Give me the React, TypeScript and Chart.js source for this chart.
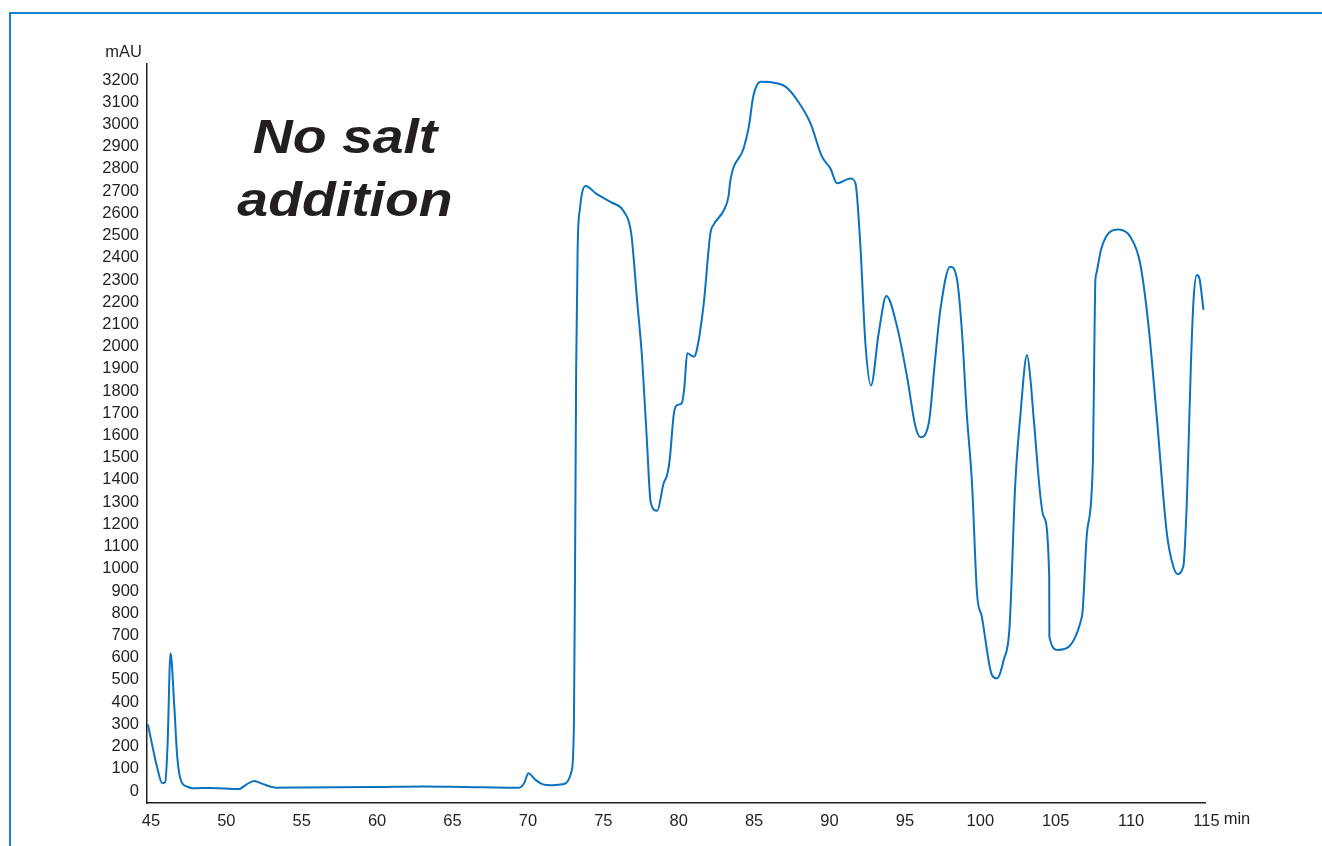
import React, { useEffect, useRef } from "react";
import { Chart, registerables } from "chart.js";

Chart.register(...registerables);

const timeMin: number[] = [
  44.8, 45.4, 45.75, 45.95, 46.1, 46.3, 46.55, 46.75, 47.0, 47.4, 47.75, 49.0, 50.85, 51.3, 51.85, 52.4, 53.3,
  55.0, 60.0, 63.0, 67.0, 69.4, 69.75, 70.03, 70.5, 71.0, 71.5, 72.4, 72.9, 73.05, 73.12, 73.2, 73.3, 73.45,
  73.83, 74.5, 75.5, 76.36, 76.85, 77.25, 77.58, 77.9, 78.14, 78.57, 79.0, 79.23, 79.4, 79.68, 79.9, 80.2,
  80.38, 80.56, 81.0, 81.2, 81.67, 82.1, 82.33, 83.0, 83.3, 83.43, 84.3, 84.65, 84.94, 85.43, 86.3, 87.08,
  87.85, 88.74, 89.5, 90.06, 90.5, 91.39, 91.72, 92.05, 92.38, 92.75, 93.26, 93.77, 94.48, 95.14, 95.7,
  96.03, 96.58, 97.0, 97.35, 98.0, 98.46, 98.79, 99.1, 99.45, 99.78, 100.1, 100.77, 101.1, 101.55, 101.94,
  102.32, 102.65, 103.1, 103.35, 103.53, 104.2, 104.57, 104.58, 105.13, 106.74, 107.07, 107.47, 107.56,
  107.62, 107.7, 108.0, 108.5, 109.17, 109.94, 110.6, 111.16, 111.7, 112.37, 112.8, 113.07, 113.46, 113.7,
  113.96, 114.14, 114.36, 114.53, 114.8,
];

const absorbance: number[] = [
  300, 110, 35, 40, 200, 620, 380, 150, 45, 20, 12, 14, 9, 28, 45, 32, 15,
  16, 18, 20, 17, 15, 35, 80, 50, 30, 26, 32, 90, 300, 950, 1900, 2450, 2620,
  2723, 2690, 2650, 2608, 2510, 2200, 1940, 1565, 1300, 1261, 1385, 1422, 1490, 1700, 1737, 1745,
  1820, 1970, 1955, 1985, 2200, 2510, 2550, 2615, 2675, 2750, 2892, 2989, 3125, 3192, 3188, 3170,
  3110, 3005, 2855, 2802, 2735, 2757, 2735, 2450, 2015, 1825, 2060, 2228, 2090, 1865, 1640,
  1592, 1655, 1940, 2165, 2360, 2300, 2060, 1700, 1385, 890, 785, 522, 507, 590, 740,
  1385, 1685, 1962, 1835, 1685, 1235, 965, 695, 635, 785, 1160, 1490, 1985,
  2285, 2330, 2435, 2510, 2527, 2495, 2375, 2090, 1685, 1160, 1010, 977, 1010, 1310,
  1910, 2210, 2322, 2307, 2165,
];

const xTicks: number[] = [45, 50, 55, 60, 65, 70, 75, 80, 85, 90, 95, 100, 105, 110, 115];
const yTicks: number[] = Array.from({ length: 33 }, (_, i) => i * 100);

const titleLines: string[] = ["No salt", "addition"];
const yUnit = "mAU";
const xUnit = "min";

const FONT = "'Liberation Sans', Arial, Helvetica, sans-serif";

export default function App() {
  const ref = useRef<HTMLCanvasElement | null>(null);

  useEffect(() => {
    if (!ref.current) return;
    const extras = {
      id: "extras",
      afterDraw(chart: any) {
        const ctx = chart.ctx;
        const xs = chart.scales.x;
        const ys = chart.scales.y;
        ctx.save();
        ctx.fillStyle = "#231f20";
        ctx.font = `16.5px ${FONT}`;
        ctx.textAlign = "right";
        ctx.textBaseline = "middle";
        ctx.fillText(yUnit, ys.right - 5, 52);
        ctx.textAlign = "left";
        const px115 = xs.getPixelForValue(115);
        const w = ctx.measureText("115").width;
        ctx.fillText(xUnit, px115 + w / 2 + 4, 819);
        ctx.font = `italic bold 49px ${FONT}`;
        ctx.textAlign = "center";
        ctx.textBaseline = "alphabetic";
        ctx.translate(345, 0);
        ctx.scale(1.13, 1);
        ctx.fillText(titleLines[0], 0, 153);
        ctx.fillText(titleLines[1], 0, 216);
        ctx.restore();
      },
    };
    const chart = new Chart(ref.current, {
      type: "line",
      data: {
        datasets: [
          {
            data: timeMin.map((t, i) => ({ x: t, y: absorbance[i] })),
            borderColor: "#0a72be",
            borderWidth: 2,
            pointRadius: 0,
            cubicInterpolationMode: "monotone",
            fill: false,
          },
        ],
      },
      options: {
        animation: false,
        responsive: false,
        maintainAspectRatio: false,
        layout: { padding: { top: 64, left: 0, right: 117, bottom: 0 } },
        plugins: { legend: { display: false }, tooltip: { enabled: false }, title: { display: false } },
        scales: {
          x: {
            type: "linear",
            min: 44.74,
            max: 114.9,
            grid: { display: false, drawTicks: false },
            border: { display: true, color: "#231f20", width: 1.5 },
            ticks: {
              padding: 9,
              color: "#231f20",
              font: { family: FONT, size: 16.5 },
              maxRotation: 0,
              autoSkip: false,
              callback: (v: any) => String(v),
            },
            afterBuildTicks: (s: any) => {
              s.ticks = xTicks.map((v) => ({ value: v }));
            },
            afterFit: (s: any) => {
              s.height = 43;
            },
          },
          y: {
            type: "linear",
            min: -54,
            max: 3272,
            grid: { display: false, drawTicks: false },
            border: { display: true, color: "#231f20", width: 1.5 },
            ticks: {
              padding: 8,
              color: "#231f20",
              font: { family: FONT, size: 16.5 },
              autoSkip: false,
              callback: (v: any) => String(v),
            },
            afterBuildTicks: (s: any) => {
              s.ticks = yTicks.map((v) => ({ value: v }));
            },
            afterFit: (s: any) => {
              s.width = 147;
            },
          },
        },
      },
      plugins: [extras],
    } as any);
    return () => chart.destroy();
  }, []);

  return (
    <div style={{ position: "absolute", left: 0, top: 0, width: 1322, height: 846, background: "#fff", overflow: "hidden" }}>
      <div style={{ position: "absolute", left: 9, top: 12, right: 0, height: 2, background: "#1a80d0" }} />
      <div style={{ position: "absolute", left: 9, top: 12, bottom: 0, width: 2, background: "#1a80d0" }} />
      <canvas ref={ref} width={1322} height={846} style={{ position: "absolute", left: 0, top: 0, width: 1322, height: 846 }} />
    </div>
  );
}
